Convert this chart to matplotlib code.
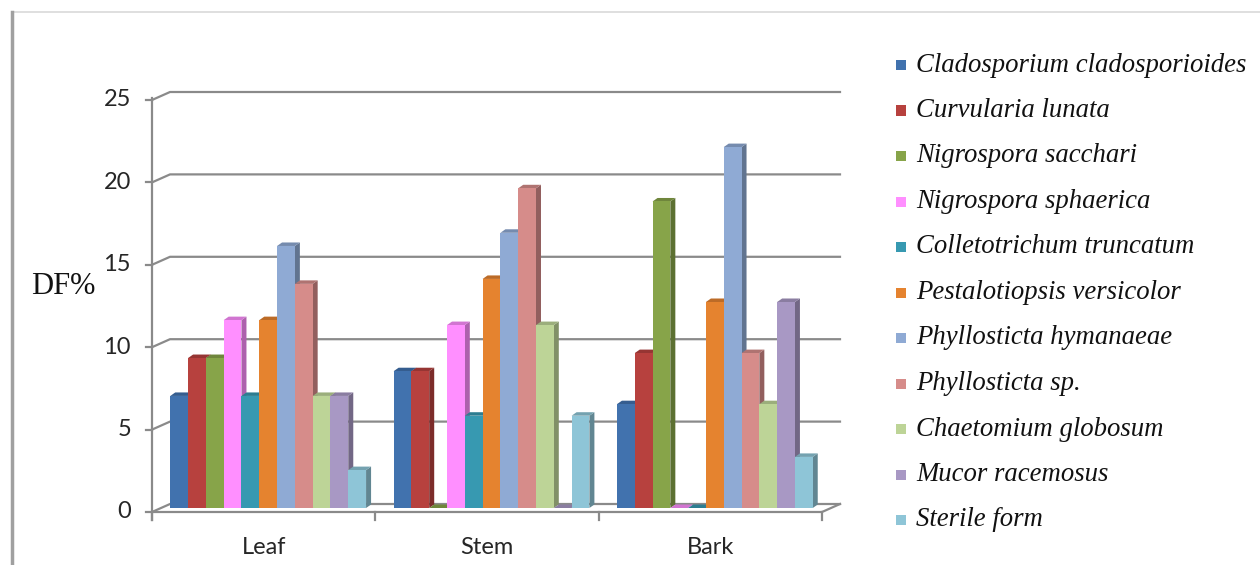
import matplotlib
matplotlib.use('Agg')
import matplotlib.pyplot as plt
from matplotlib.patches import Polygon, Rectangle
from matplotlib.lines import Line2D
from matplotlib.transforms import offset_copy, IdentityTransform
from matplotlib.colors import to_rgb
import numpy as np

# ---------------- data ----------------
categories = ['Leaf', 'Stem', 'Bark']
species = ['Cladosporium cladosporioides', 'Curvularia lunata', 'Nigrospora sacchari',
           'Nigrospora sphaerica', 'Colletotrichum truncatum', 'Pestalotiopsis versicolor',
           'Phyllosticta hymanaeae', 'Phyllosticta sp.', 'Chaetomium globosum',
           'Mucor racemosus', 'Sterile form']
leaf = [6.8, 9.1, 9.1, 11.4, 6.8, 11.4, 15.9, 13.6, 6.8, 6.8, 2.3]
stem = [8.3, 8.3, 0.0, 11.1, 5.6, 13.9, 16.7, 19.4, 11.1, 0.0, 5.6]
bark = [6.3, 9.4, 18.6, 0.0, 0.0, 12.5, 21.9, 9.4, 6.3, 12.5, 3.1]
y_ticks = [0, 5, 10, 15, 20, 25]
colors = ['#4172AE', '#B7413E', '#87A449', '#FF8FFF', '#3799B1', '#E5832F',
          '#8FAAD4', '#D68C8A', '#BDD497', '#A898C4', '#8EC5D7']
y_label = 'DF%'

values = [leaf, stem, bark]

# ---------------- figure ----------------
W, H = 1260, 565
fig = plt.figure(figsize=(W / 100, H / 100), dpi=100)
fig.patch.set_facecolor('white')
ax = fig.add_axes([152 / W, 53 / H, 670 / W, 412 / H])
ax.set_xlim(0, len(categories))
ax.set_ylim(0, 25)
ax.axis('off')

ident = IdentityTransform()
grid_c = '#8a8a8a'
WDX, WDY = 18, 8          # back-wall depth offset (px)
BDX, BDY = 4.5, 4         # bar placement offset (px)
DDX, DDY = 5, 3.5         # bar depth (px)


def disp(x, y, tr=None):
    return (tr or ax.transData).transform((x, y))


ncat = len(categories)
# back wall gridlines
for v in y_ticks:
    x0, y0 = disp(0, v)
    x1, _ = disp(ncat, v)
    ax.add_line(Line2D([x0, x0 + WDX, x1 + WDX], [y0, y0 + WDY, y0 + WDY],
                       transform=ident, color=grid_c, lw=1.6, clip_on=False, zorder=1))
# floor
fx0, fy0 = disp(0, 0)
fx1, _ = disp(ncat, 0)
ax.add_line(Line2D([fx0, fx1, fx1 + WDX], [fy0, fy0, fy0 + WDY], transform=ident,
                   color=grid_c, lw=1.6, clip_on=False, zorder=2))
# vertical axis
_, ytop = disp(0, 25)
ax.add_line(Line2D([fx0, fx0], [ytop + 2, fy0 - 8], transform=ident,
                   color=grid_c, lw=1.6, clip_on=False, zorder=2))
for v in y_ticks:
    x0, y0 = disp(0, v)
    ax.add_line(Line2D([x0 - 6, x0], [y0, y0], transform=ident,
                       color=grid_c, lw=1.6, clip_on=False, zorder=2))
for i in range(ncat + 1):
    x0, y0 = disp(i, 0)
    ax.add_line(Line2D([x0, x0], [y0, y0 - 8], transform=ident,
                       color=grid_c, lw=1.6, clip_on=False, zorder=2))

# tick labels
tick_font = dict(family='Lato', size=17, color='#262626')
lab_tr = offset_copy(ax.transData, fig=fig, x=-21, y=0, units='dots')
for v in y_ticks:
    ax.text(0, v, str(v), transform=lab_tr, ha='right', va='center', **tick_font)
cat_tr = offset_copy(ax.transData, fig=fig, x=0, y=-36, units='dots')
for i, c in enumerate(categories):
    ax.text(i + 0.5, 0, c, transform=cat_tr, ha='center', va='center', **tick_font)

fig.text(63 / W, 1 - 286 / H, y_label, family='Liberation Serif', size=22,
         ha='center', va='center', color='#111111')

# bars
nser = len(species)
w = 17.8 / (670 / ncat)
bar_tr = offset_copy(ax.transData, fig=fig, x=BDX, y=BDY, units='dots')


def shade(c, f):
    r, g, b = to_rgb(c)
    return (r * f, g * f, b * f)


for i in range(ncat):
    for j in range(nser):
        val = values[i][j]
        left = i + 0.5 - nser * w / 2 + j * w
        z = 10 + j * 0.01
        col = colors[j]
        bl = disp(left, 0, bar_tr)
        br = disp(left + w, 0, bar_tr)
        tl = disp(left, val, bar_tr)
        tr_ = disp(left + w, val, bar_tr)
        side = Polygon([br, tr_, tr_ + [DDX, DDY], br + [DDX, DDY]], closed=True,
                       transform=ident, facecolor=shade(col, 0.68), edgecolor='none',
                       zorder=z, clip_on=False)
        top = Polygon([tl, tr_, tr_ + [DDX, DDY], tl + [DDX, DDY]], closed=True,
                      transform=ident, facecolor=shade(col, 0.82), edgecolor='none',
                      zorder=z, clip_on=False)
        ax.add_patch(side)
        ax.add_patch(top)
        ax.bar(left, val, width=w, align='edge', color=col, transform=bar_tr,
               zorder=z, clip_on=False, linewidth=0)

ax.set_xlim(0, ncat)
ax.set_ylim(0, 25)

# legend (manual)
for k, name in enumerate(species):
    yc = 65 + k * 45.5
    fig.add_artist(Rectangle((896 / W, 1 - (yc + 5) / H), 10 / W, 10 / H,
                             transform=fig.transFigure, facecolor=colors[k], edgecolor='none'))
    fig.text(916 / W, 1 - yc / H, name, family='Liberation Serif', style='italic',
             size=19.3, ha='left', va='center', color='#111111')

# outer border
fig.add_artist(Line2D([12 / W, 1], [1 - 12 / H, 1 - 12 / H], transform=fig.transFigure,
                      color='#d9d9d9', lw=1.2))
fig.add_artist(Line2D([12 / W, 12 / W], [0, 1 - 12 / H], transform=fig.transFigure,
                      color='#a0a0a0', lw=2.5))

fig.savefig('out.png', dpi=100, facecolor='white')
